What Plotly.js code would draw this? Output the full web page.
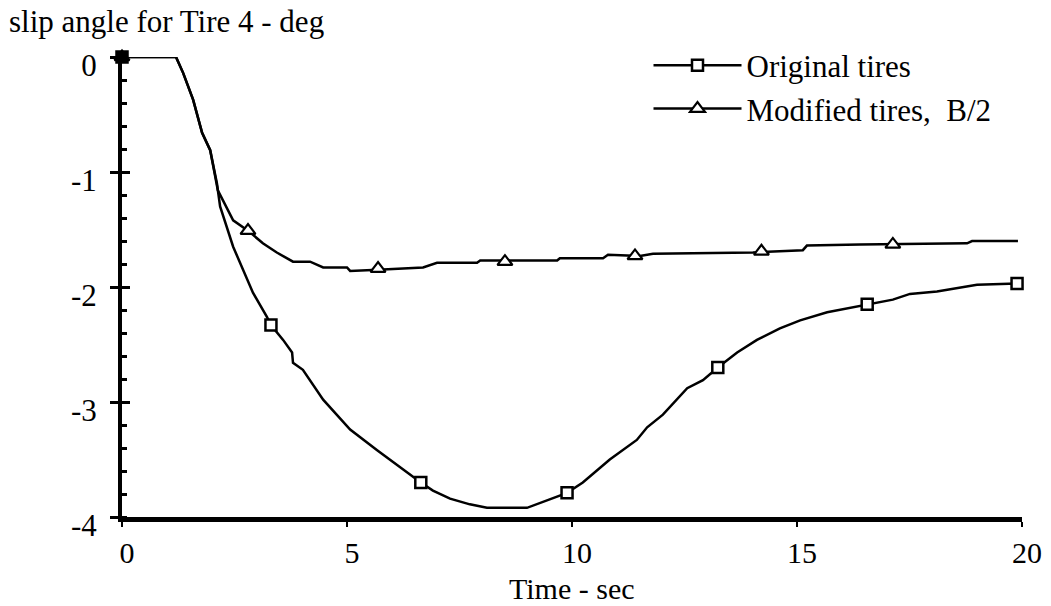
<!DOCTYPE html>
<html>
<head>
<meta charset="utf-8">
<script src="https://cdn.plot.ly/plotly-3.0.1.min.js"></script>
<style>html,body{margin:0;padding:0;background:#fff;}#chart{width:1051px;height:606px;}</style>
</head>
<body>
<div id="chart"></div>
<script>
// Original tires curve
const tOrig = [0, 1.2, 1.36, 1.58, 1.78, 1.96, 2.11, 2.18, 2.47, 2.91, 3.22, 3.31, 3.58, 3.78, 3.8, 4.02, 4.47, 5.07, 5.67, 6.11, 6.64, 6.91, 7.29, 7.73, 8.11, 9.0, 9.36, 9.89, 10.24, 10.84, 11.44, 11.67, 12.02, 12.56, 12.91, 13.24, 13.67, 14.11, 14.62, 15.07, 15.67, 16.56, 17.13, 17.51, 18.11, 19.0, 19.89];
const yOrig = [0, 0, -0.14, -0.37, -0.66, -0.81, -1.1, -1.3, -1.65, -2.05, -2.26, -2.33, -2.46, -2.57, -2.66, -2.72, -2.98, -3.24, -3.42, -3.55, -3.70, -3.77, -3.84, -3.89, -3.92, -3.92, -3.87, -3.79, -3.70, -3.50, -3.33, -3.22, -3.11, -2.88, -2.81, -2.70, -2.57, -2.46, -2.36, -2.29, -2.22, -2.15, -2.11, -2.06, -2.04, -1.98, -1.97];
const tOrigMk = [0, 3.31, 6.64, 9.89, 13.24, 16.56, 19.89];
const yOrigMk = [0, -2.33, -3.70, -3.79, -2.70, -2.15, -1.97];

// Modified tires, B/2 curve
const tMod = [0, 1.2, 1.36, 1.58, 1.78, 1.96, 2.13, 2.47, 2.8, 3.13, 3.44, 3.8, 4.18, 4.47, 5.0, 5.07, 5.69, 6.69, 7.0, 7.89, 7.96, 9.67, 9.73, 10.69, 10.8, 11.51, 11.8, 14.02, 15.13, 15.22, 16.4, 18.78, 18.89, 19.91];
const yMod = [0, 0, -0.14, -0.37, -0.66, -0.81, -1.16, -1.42, -1.51, -1.62, -1.70, -1.78, -1.78, -1.83, -1.83, -1.86, -1.85, -1.83, -1.79, -1.79, -1.77, -1.77, -1.75, -1.75, -1.72, -1.73, -1.71, -1.70, -1.68, -1.64, -1.63, -1.62, -1.60, -1.60];
const tModMk = [0, 2.8, 5.69, 8.51, 11.4, 14.21, 17.13];
const yModMk = [0, -1.51, -1.84, -1.78, -1.73, -1.69, -1.63];

const seriesNames = ['Original tires', 'Modified tires,  B/2'];
const xTickVals = [0, 5, 10, 15, 20];
const xTickText = ['0', '5', '10', '15', '20'];
const yTickVals = [0, -1, -2, -3, -4];
const yTickText = ['0', '-1', '-2', '-3', '-4'];
const yTitle = 'slip angle for Tire 4 - deg';
const xTitle = 'Time - sec';

const FONT = '"Liberation Serif", "Times New Roman", serif';
const FS = 31;
const lineStyle = {color: '#000', width: 2.5};
// the first (t = 0) marker of each series is drawn filled, as in the reference
const fillFirst = (arr) => arr.map((_, i) => i === 0 ? '#000' : '#fff');
const sqMarker = {symbol: 'square', size: 11, color: '#fff', line: {color: '#000', width: 2.5}};
const trMarker = {symbol: 'triangle-up', size: 13, color: '#fff', line: {color: '#000', width: 2.2}};

const traces = [
  {x: tOrig, y: yOrig, mode: 'lines', line: lineStyle, showlegend: false, cliponaxis: false, hoverinfo: 'skip'},
  {x: tMod, y: yMod, mode: 'lines', line: lineStyle, showlegend: false, cliponaxis: false, hoverinfo: 'skip'},
  {x: tOrigMk, y: yOrigMk, mode: 'markers', marker: Object.assign({}, sqMarker, {color: fillFirst(tOrigMk)}), showlegend: false, cliponaxis: false},
  {x: tModMk, y: yModMk, mode: 'markers', marker: Object.assign({}, trMarker, {color: fillFirst(tModMk)}), showlegend: false, cliponaxis: false},
  {x: [null], y: [null], mode: 'lines+markers', name: seriesNames[0], line: lineStyle, marker: sqMarker},
  {x: [null], y: [null], mode: 'lines+markers', name: seriesNames[1], line: lineStyle, marker: trMarker},
  {x: [null], y: [null], yaxis: 'y2', showlegend: false, hoverinfo: 'skip', mode: 'lines'}
];

const layout = {
  width: 1051, height: 606,
  margin: {l: 122, r: 29, t: 57, b: 89},
  paper_bgcolor: '#fff', plot_bgcolor: '#fff',
  font: {family: FONT, size: FS, color: '#000'},
  showlegend: true,
  legend: {x: 0.585, y: 1.04, xanchor: 'left', yanchor: 'top', bgcolor: 'rgba(0,0,0,0)',
           font: {family: FONT, size: FS, color: '#000'}, tracegroupgap: 0, itemwidth: 88},
  xaxis: {
    range: [0, 20], tickvals: xTickVals, ticktext: xTickText,
    showline: true, linecolor: '#000', linewidth: 5, zeroline: false, showgrid: false,
    ticks: 'outside', ticklen: 5, tickwidth: 2, tickcolor: '#000',
    tickfont: {family: FONT, size: 30, color: '#000'}, ticklabelshift: 5, ticklabelstandoff: 0
  },
  yaxis: {
    range: [-4, 0], tickvals: yTickVals, ticktext: yTickText,
    showline: true, linecolor: '#000', linewidth: 4, zeroline: false, showgrid: false,
    ticks: 'outside', ticklen: 8, tickwidth: 3, tickcolor: '#000',
    tickfont: {family: FONT, size: FS, color: '#000'}, ticklabelshift: 8, ticklabelstandoff: 7,
    minor: {dtick: 0.2, ticks: 'inside', ticklen: 5, tickwidth: 3, tickcolor: '#000', showgrid: false}
  },
  yaxis2: {
    overlaying: 'y', matches: 'y', side: 'left', showline: false, showgrid: false, zeroline: false,
    tickvals: yTickVals, showticklabels: false, ticks: 'inside', ticklen: 8, tickwidth: 3, tickcolor: '#000'
  },
  annotations: [
    {text: yTitle, xref: 'paper', yref: 'paper', x: -0.128, y: 1.078, xanchor: 'left', yanchor: 'middle',
     showarrow: false, font: {family: FONT, size: FS, color: '#000'}},
    {text: xTitle, xref: 'paper', yref: 'paper', x: 0.5, y: -0.1935, xanchor: 'center', yanchor: 'bottom',
     showarrow: false, borderpad: 0, font: {family: FONT, size: 30, color: '#000'}}
  ]
};

Plotly.newPlot('chart', traces, layout, {displayModeBar: false, staticPlot: true});
</script>
</body>
</html>
